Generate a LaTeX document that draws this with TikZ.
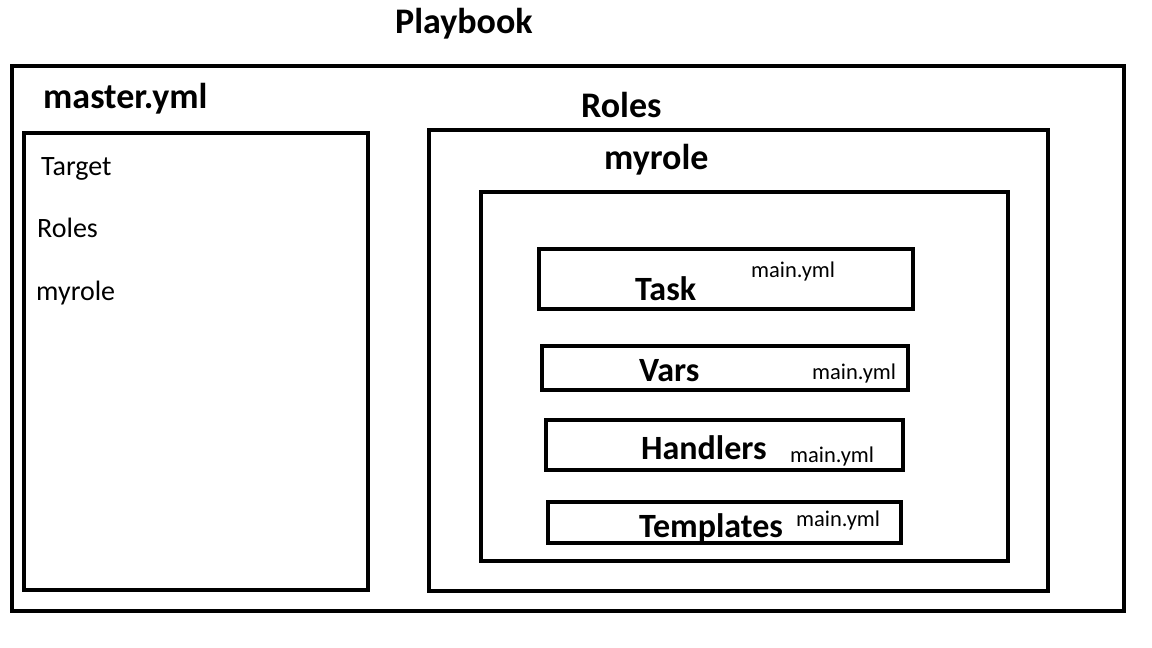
\documentclass[tikz,border=0pt]{standalone}
\usepackage{fontspec}
\setmainfont{Carlito}
\usepackage{tikz}

\tikzset{
  box/.style={draw, line width=4pt},
  title/.style={inner sep=0pt, anchor=base west, font=\fontsize{36}{40}\selectfont\bfseries},
  folder/.style={inner sep=0pt, anchor=base west, font=\fontsize{34}{38}\selectfont\bfseries},
  item/.style={inner sep=0pt, anchor=base west, font=\fontsize{28}{32}\selectfont},
  file/.style={inner sep=0pt, anchor=base west, font=\fontsize{22.5}{26}\selectfont}
}

\begin{document}
\begin{tikzpicture}[x=1pt, y=-1pt]
\useasboundingbox (0,0) rectangle (1152,648);

% boxes
\draw[box] (12,66) rectangle (1124,611);
\draw[box] (24,133) rectangle (368,590);
\draw[box] (429,130) rectangle (1048,591);
\draw[box] (481,192) rectangle (1008,561);
\draw[box] (539,249) rectangle (913,309);
\draw[box] (542,346) rectangle (908,390);
\draw[box] (546,420) rectangle (903,470);
\draw[box] (548,502) rectangle (901,543);

% titles
\node[title] (playbook) at (395,33) {Playbook};
\node[title] (master) at (43,108) {master.yml};
\node[title] (roles) at (581,117) {Roles};
\node[title] (myrole) at (604,169) {myrole};

% master.yml entries
\node[item] (target) at (41,175) {Target};
\node[item] (rolesitem) at (37,237) {Roles};
\node[item] (myroleitem) at (36,300) {myrole};

% role folders
\node[folder] (task) at (635,300) {Task};
\node[file] (taskmain) at (751,277) {main.yml};
\node[folder] (vars) at (639,381) {Vars};
\node[file] (varsmain) at (812,379) {main.yml};
\node[folder] (handlers) at (641,459) {Handlers};
\node[file] (handlersmain) at (790,462) {main.yml};
\node[folder] (templates) at (639,537) {Templates};
\node[file] (templatesmain) at (796,526) {main.yml};

\end{tikzpicture}
\end{document}
